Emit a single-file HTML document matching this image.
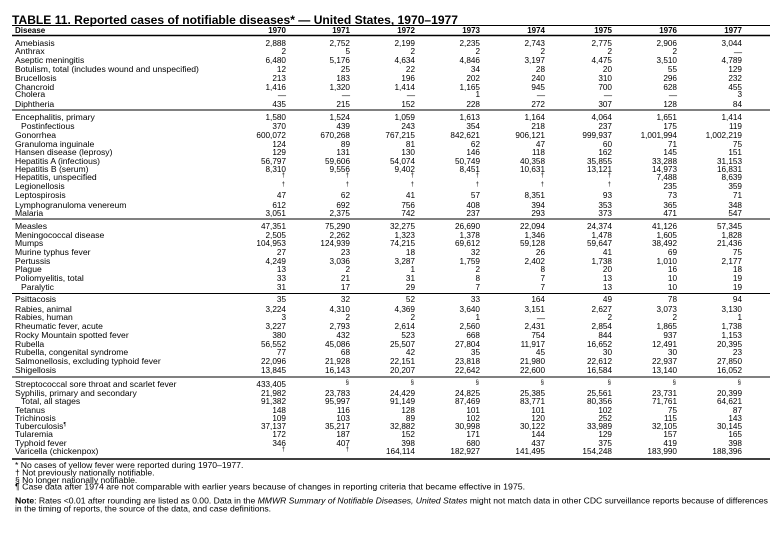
<!DOCTYPE html>
<html><head><meta charset="utf-8"><style>
html,body{margin:0;padding:0;background:#fff;width:783px;height:536px;overflow:hidden}
svg{display:block}
text{font-family:"Liberation Sans",sans-serif;fill:#000}
.l{font-size:8.6px}
.n{font-size:8.2px;text-anchor:end}
.s{font-size:6px;text-anchor:end}
</style></head><body>
<svg width="783" height="536" viewBox="0 0 783 536" xmlns="http://www.w3.org/2000/svg">
<text x="12" y="24" font-size="11.5" font-weight="bold" textLength="446" lengthAdjust="spacingAndGlyphs">TABLE 11. Reported cases of notifiable diseases* — United States, 1970–1977</text>
<line x1="12" y1="25.5" x2="770" y2="25.5" stroke="#000" stroke-width="1"/>
<g font-size="8" font-weight="bold">
<text x="15" y="33">Disease</text>
<text x="286" y="33" text-anchor="end">1970</text><text x="350" y="33" text-anchor="end">1971</text><text x="415" y="33" text-anchor="end">1972</text><text x="480" y="33" text-anchor="end">1973</text><text x="545" y="33" text-anchor="end">1974</text><text x="612" y="33" text-anchor="end">1975</text><text x="677" y="33" text-anchor="end">1976</text><text x="742" y="33" text-anchor="end">1977</text>
</g>
<line x1="12" y1="35.5" x2="770" y2="35.5" stroke="#000" stroke-width="1.4"/>
<g stroke="#000" stroke-width="1">
<line x1="12" y1="110" x2="770" y2="110"/>
<line x1="12" y1="219" x2="770" y2="219"/>
<line x1="12" y1="293.5" x2="770" y2="293.5"/>
<line x1="12" y1="377" x2="770" y2="377"/>
</g>
<line x1="12" y1="459" x2="770" y2="459" stroke="#000" stroke-width="1.4"/>
<g id="rows"></g>
<g class="l">
<text x="15" y="468">* No cases of yellow fever were reported during 1970–1977.</text>
<text x="15" y="475.5">† Not previously nationally notifiable.</text>
<text x="15" y="483">§ No longer nationally notifiable.</text>
<text x="15" y="489.5" textLength="510" lengthAdjust="spacingAndGlyphs">¶ Case data after 1974 are not comparable with earlier years because of changes in reporting criteria that became effective in 1975.</text>
<text x="15" y="503.5" textLength="753" lengthAdjust="spacingAndGlyphs"><tspan font-weight="bold">Note</tspan>: Rates &lt;0.01 after rounding are listed as 0.00. Data in the <tspan font-style="italic">MMWR Summary of Notifiable Diseases, United States</tspan> might not match data in other CDC surveillance reports because of differences</text>
<text x="15" y="511.5">in the timing of reports, the source of the data, and case definitions.</text>
</g>
</svg>
<script>
var cols=[286,350,415,480,545,612,677,742];
var D="—",T="†",S="§";
var rows=[
[43,"Amebiasis",["2,888","2,752","2,199","2,235","2,743","2,775","2,906","3,044"]],
[51,"Anthrax",["2","5","2","2","2","2","2",D]],
[60,"Aseptic meningitis",["6,480","5,176","4,634","4,846","3,197","4,475","3,510","4,789"]],
[69,"Botulism, total (includes wound and unspecified)",["12","25","22","34","28","20","55","129"]],
[78,"Brucellosis",["213","183","196","202","240","310","296","232"]],
[87,"Chancroid",["1,416","1,320","1,414","1,165","945","700","628","455"]],
[94,"Cholera",[D,D,D,"1",D,D,D,"3"]],
[104,"Diphtheria",["435","215","152","228","272","307","128","84"]],
[117,"Encephalitis, primary",["1,580","1,524","1,059","1,613","1,164","4,064","1,651","1,414"]],
[126,"   Postinfectious",["370","439","243","354","218","237","175","119"]],
[135,"Gonorrhea",["600,072","670,268","767,215","842,621","906,121","999,937","1,001,994","1,002,219"]],
[144,"Granuloma inguinale",["124","89","81","62","47","60","71","75"]],
[152,"Hansen disease (leprosy)",["129","131","130","146","118","162","145","151"]],
[161,"Hepatitis A (infectious)",["56,797","59,606","54,074","50,749","40,358","35,855","33,288","31,153"]],
[169,"Hepatitis B (serum)",["8,310","9,556","9,402","8,451","10,631","13,121","14,973","16,831"]],
[177,"Hepatitis, unspecified",[T,T,T,T,T,T,"7,488","8,639"]],
[186,"Legionellosis",[T,T,T,T,T,T,"235","359"]],
[195,"Leptospirosis",["47","62","41","57","8,351","93","73","71"]],
[205,"Lymphogranuloma venereum",["612","692","756","408","394","353","365","348"]],
[213,"Malaria",["3,051","2,375","742","237","293","373","471","547"]],
[226,"Measles",["47,351","75,290","32,275","26,690","22,094","24,374","41,126","57,345"]],
[235,"Meningococcal disease",["2,505","2,262","1,323","1,378","1,346","1,478","1,605","1,828"]],
[243,"Mumps",["104,953","124,939","74,215","69,612","59,128","59,647","38,492","21,436"]],
[252,"Murine typhus fever",["27","23","18","32","26","41","69","75"]],
[261,"Pertussis",["4,249","3,036","3,287","1,759","2,402","1,738","1,010","2,177"]],
[269,"Plague",["13","2","1","2","8","20","16","18"]],
[278,"Poliomyelitis, total",["33","21","31","8","7","13","10","19"]],
[287,"   Paralytic",["31","17","29","7","7","13","10","19"]],
[299,"Psittacosis",["35","32","52","33","164","49","78","94"]],
[309,"Rabies, animal",["3,224","4,310","4,369","3,640","3,151","2,627","3,073","3,130"]],
[317,"Rabies, human",["3","2","2","1",D,"2","2","1"]],
[326,"Rheumatic fever, acute",["3,227","2,793","2,614","2,560","2,431","2,854","1,865","1,738"]],
[335,"Rocky Mountain spotted fever",["380","432","523","668","754","844","937","1,153"]],
[344,"Rubella",["56,552","45,086","25,507","27,804","11,917","16,652","12,491","20,395"]],
[352,"Rubella, congenital syndrome",["77","68","42","35","45","30","30","23"]],
[361,"Salmonellosis, excluding typhoid fever",["22,096","21,928","22,151","23,818","21,980","22,612","22,937","27,850"]],
[370,"Shigellosis",["13,845","16,143","20,207","22,642","22,600","16,584","13,140","16,052"]],
[384,"Streptococcal sore throat and scarlet fever",["433,405",S,S,S,S,S,S,S]],
[393,"Syphilis, primary and secondary",["21,982","23,783","24,429","24,825","25,385","25,561","23,731","20,399"]],
[401,"   Total, all stages",["91,382","95,997","91,149","87,469","83,771","80,356","71,761","64,621"]],
[410,"Tetanus",["148","116","128","101","101","102","75","87"]],
[418,"Trichinosis",["109","103","89","102","120","252","115","143"]],
[426,"Tuberculosis¶",["37,137","35,217","32,882","30,998","30,122","33,989","32,105","30,145"]],
[434,"Tularemia",["172","187","152","171","144","129","157","165"]],
[443,"Typhoid fever",["346","407","398","680","437","375","419","398"]],
[451,"Varicella (chickenpox)",[T,T,"164,114","182,927","141,495","154,248","183,990","188,396"]]
];
var h="";
function esc(s){return s.replace(/&/g,"&amp;").replace(/</g,"&lt;");}
rows.forEach(function(r){
 var y=r[0]+3;
 var lab=r[1],x=15;
 if(lab.indexOf("   ")==0){x=21;lab=lab.trim();}
 if(lab.indexOf("¶")>0){lab=lab.replace("¶","");h+='<text class="l" x="'+x+'" y="'+y+'">'+esc(lab)+'<tspan font-size="5.5" dy="-3">¶</tspan></text>';}
 else h+='<text class="l" x="'+x+'" y="'+y+'">'+esc(lab)+'</text>';
 r[2].forEach(function(v,i){
  if(v==T||v==S) h+='<text class="s" x="'+(cols[i]-1)+'" y="'+(y-3)+'">'+v+'</text>';
  else if(v==D) h+='<text class="n" x="'+cols[i]+'" y="'+(y+1)+'">—</text>';
  else h+='<text class="n" x="'+cols[i]+'" y="'+y+'">'+v+'</text>';
 });
});
document.getElementById("rows").innerHTML=h;
</script>
</body></html>
